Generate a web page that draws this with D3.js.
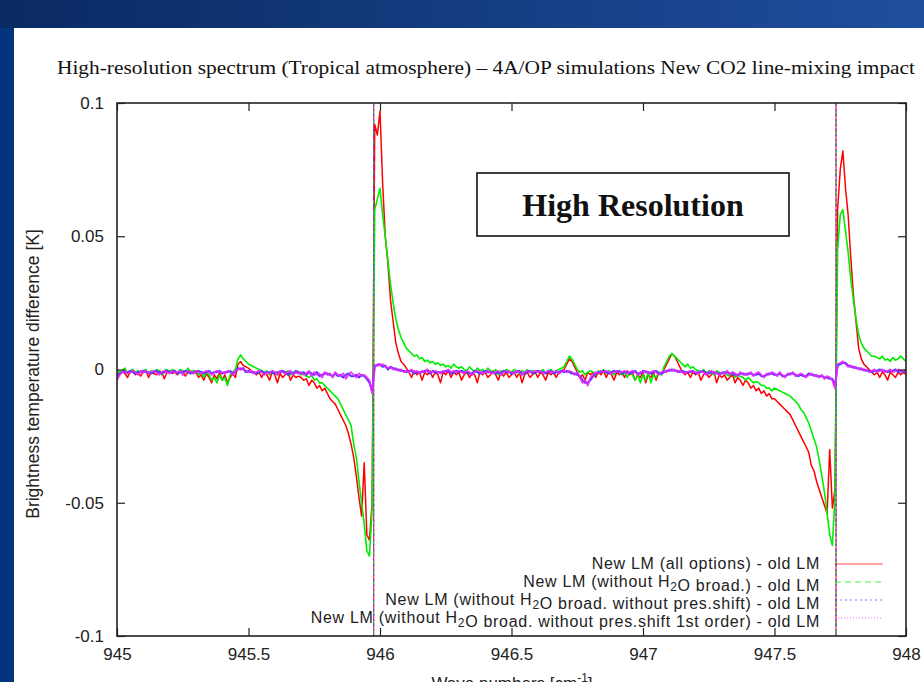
<!DOCTYPE html>
<html>
<head>
<meta charset="utf-8">
<script src="https://cdn.jsdelivr.net/npm/d3@7"></script>
<style>
  body { margin: 0; padding: 0; background: #fff; }
  svg { display: block; }
  .tick text { font-family: "Liberation Sans", Arial, sans-serif; font-size: 17px; fill: #222; }
  .tick line { stroke: #222; stroke-width: 1.2; }
</style>
</head>
<body>
<svg id="chart"></svg>
<script>
// wavenumber grid: 945.00 .. 948.00 every 0.01 cm-1, values in mK
var waveStart = 945, waveStep = 0.01;

var allOptions = [
  -1,-2,-0.5,-1.5,-3,-1,-0.5,-2,-1,-2.5,          // 945.0
  -1,-0.5,-3,-1,-1.5,-2,-0.5,-1,-3.5,-1,          // 945.1
  -0.5,-1.5,-1,-2,-0.5,-1,-2.5,-1,-0.5,-1.5,      // 945.2
  -1,-3,-2,-4,-1.5,-3,-5,-2,-3.5,-1,              // 945.3
  -4,-2,-5,-3,-1.5,-3,2,3,1.5,1,                  // 945.4
  0.5,-0.5,-1,-2,-1,-3,-1,-2,-4,-1,               // 945.5
  -2,-5,-1.5,-3,-2,-1,-4,-2,-3,-2.5,              // 945.6
  -3,-4,-3.5,-6,-4,-5,-7,-6,-8,-7,                // 945.7
  -9,-11,-12,-13,-15,-17,-19,-21,-24,-28,         // 945.8
  -33,-40,-48,-55,-35,-62,-64,-50,92,88,          // 945.9
  97,70,50,40,26,18,10,6,3,2,                     // 946.0
  0.5,-1,-3,-0.5,-2,-1,-4,-1,-2,-0.5,             // 946.1
  -3,-1,-2,-5,-1,-2,-0.5,-3,-1,-2,                // 946.2
  -1,-4,-2,-1,-3,-1.5,-2,-5,-1,-2,                // 946.3
  -1,-3,-2,-0.5,-2,-4,-1,-2.5,-1,-3,              // 946.4
  -2,-1,-3,-1,-5,-2,-1,-3,-2,-1,                  // 946.5
  -3,-1,-2,-4,-1,-2,-1,-3,-1,-0.5,                // 946.6
  0,2,4,3,1,-1,-3,-2,-4,-1,                       // 946.7
  -2,-1,-3,-1,-2,-0.5,-3,-1,-2,-4,                // 946.8
  -1,-2,-1,-3,-0.5,-2,-1,-4,-2,-3,                // 946.9
  -1,-5,-2,-3,-1,-4,-1,-2,0,2,                    // 947.0
  4,6,5,3,1,-1,-2,-1,-3,-1,                       // 947.1
  -2,-1,-4,-2,-1,-3,-2,-1,-5,-2,                  // 947.2
  -3,-2,-4,-3,-2,-5,-3,-4,-6,-4,                  // 947.3
  -5,-7,-6,-8,-7,-9,-8,-10,-9,-11,                // 947.4
  -11,-12,-13,-14,-15,-16,-17,-19,-21,-23,        // 947.5
  -25,-27,-29,-31,-36,-38,-42,-45,-48,-51,        // 947.6
  -54,-30,-52,-45,60,75,82,68,58,42,              // 947.7
  28,18,8,4,2,1,0,-1,-2,-1,                       // 947.8
  -3,-1,-2,-4,-1,-2,-3,-1,-2,-1,                  // 947.9
  -2
];

var noH2OBroad = [
  0,-1,-0.5,0.5,-1.5,-0.5,0,-1,-0.5,-1,
  -0.5,0,-1.5,-0.5,-1,0,-0.5,-2,-0.5,0,
  -1,0,-0.5,-1.5,0,-0.5,-1,0.5,-1,-0.5,
  -0.5,-2,-1,-3,-1,-2,-4,-3,-5,-2,
  -4,-3,-6,-2,-1,0,4,5.5,4,3,
  2,1.5,1,0.5,0,-0.5,-1,-0.5,-2,-0.5,
  -1,-2,-0.5,-1,-1.5,-0.5,-2,-1,-1.5,-1,
  -2,-1.5,-2.5,-3,-2,-4,-3.5,-5,-5,-6,
  -7,-8,-9,-10,-11,-13,-15,-17,-19,-21,
  -28,-33,-42,-50,-58,-68,-70,-52,60,64,
  68,58,50,41,32,25,19,15,12,10,
  8,7,6,5,5.5,4,4.5,3,3.5,2.5,
  3,2,2.5,1.5,2,1,1.5,0.5,2,1,
  0.5,1,0,-0.5,1,0,-1,0.5,-0.5,0,
  -1,0.5,-0.5,-1,0,-2,-0.5,-1,0,-0.5,
  -1,0,-0.5,-1.5,-0.5,-1,0,-1,-0.5,-1,
  -0.5,-1,0,-1.5,-0.5,0,-1,-0.5,0,0.5,
  1,3,5,4,2,0,-1,-0.5,-2,-1,
  -0.5,-1,-2,-0.5,-1,0,-1.5,-0.5,-1,-2,
  -0.5,-1,-2,-1,-3,-1,-2,-4,-2,-5,
  -2,-4,-1,-5,-2,-3,-1,-2,1,3,
  5,6,5,4,3,2,1,2,0.5,1,
  0,-0.5,-1,0,-1.5,-0.5,-1,-2,-0.5,-1,
  -1.5,-1,-2,-2.5,-1,-3,-2,-2.5,-3,-4,
  -3,-4,-5,-4.5,-5,-6,-6,-7,-7,-8,
  -7,-7.5,-8,-8.5,-9,-9.5,-10,-11,-12,-13,
  -15,-16,-18,-20,-23,-26,-29,-34,-40,-46,
  -54,-62,-66,-48,45,58,60,52,44,34,
  26,19,13,10,8,7,6,5,5,4.5,
  4,5,3.5,4,3,4.5,3.5,4,5,4,
  3
];

var noPresShift = [
  -3,-1.5,-1,-1,-1,-0.5,-1,-1.5,-1,-1,
  -0.5,-1,-1,-1.5,-1,-0.5,-1,-1.5,-1,-0.5,
  -1,-1,-0.5,-1.5,-1,-1,-0.5,-1,-1.5,-1,
  -1,-0.5,-1,-1.5,-1,-0.5,-1.5,-1,-1,-0.5,
  -1.5,-1,-1,-0.5,-1.5,-1,0.5,0,0.5,-1,
  -0.5,-1,-1,-1.5,-1,-0.5,-1.5,-1,-1,-1,
  -1.5,-1,-1,-0.5,-1,-2,-1,-1.5,-0.5,-1,
  -1.5,-1,-2,-1,-1.5,-2,-1,-2.5,-2,-1.5,
  -1.5,-2,-2.5,-1.5,-2.5,-2,-3,-2,-1.5,-2.5,
  -2.5,-2,-3,-2,-2.5,-3.5,-5,-8,1.5,1.5,
  2,1,1.5,0,1,0.5,0,0,-0.5,-0.5,
  -1,-0.5,-0.5,-1.5,-1,-1,-1,-0.5,-0.5,-1.5,
  -0.5,-1,-1,-1,-1,-0.5,-0.5,-1.5,-1,-0.5,
  -1,-0.5,-1,-1,-1.5,-1.5,-0.5,-1,-1.5,-1,
  -0.5,-1,-1,-1,-1.5,-1,-1.5,-0.5,-1,-1,
  -1.5,-1,-1,-0.5,-1.5,-1.5,-1,-0.5,-1.5,-1,
  -0.5,-1,-1,-1.5,-1,-0.5,-1.5,-1,-1,-0.5,
  -1,-0.5,-1,-1.5,-1.5,-2,-2.5,-4,-5,-5,
  -4,-2.5,-1.5,-1,-1,-0.5,-1,-1.5,-1,-0.5,
  -1,-0.5,-1.5,-1,-1,-1.5,-1,-0.5,-1.5,-1.5,
  -0.5,-1,-1,-1.5,-1,-0.5,-1.5,-1.5,-1,-0.5,
  -0.5,0,-0.5,-0.5,-1,-0.5,-1,-1,-1,-0.5,
  -1.5,-1,-1,-0.5,-1.5,-1.5,-1,-1,-1.5,-1.5,
  -1.5,-1,-1,-1.5,-1.5,-2,-2,-1.5,-1.5,-2,
  -1.5,-1.5,-2,-2,-1.5,-2.5,-2.5,-2,-1.5,-1.5,
  -2,-2,-1.5,-2.5,-2.5,-2,-1.5,-1.5,-2,-2.5,
  -2,-2.5,-2.5,-1.5,-2,-2,-2.5,-2.5,-2.5,-3,
  -3,-3.5,-3.5,-6,1.5,2,2.5,2.5,1.5,1,
  1,0.5,0.5,0,0,-0.5,-0.5,-1,-0.5,-0.5,
  0,-0.5,-0.5,-1,-0.5,-0.5,0,-1,-0.5,-1,
  -0.5
];

var noPresShift1st = [
  -4,-2,-1,-0.5,-1.5,-1,-0.5,-1,-2,-0.5,
  -1,-0.5,-1.5,-1,-0.5,-1,-2,-1,-0.5,-1,
  -1.5,-0.5,-1,-1,-0.5,-2,-1,-0.5,-1,-1.5,
  -0.5,-1,-1.5,-1,-0.5,-1,-2,-1,-0.5,-1,
  -1,-1.5,-0.5,-1,-2,-0.5,0,0.5,0,-0.5,
  -1,-0.5,-1.5,-1,-0.5,-1,-2,-1,-1.5,-0.5,
  -1,-2,-0.5,-1,-1.5,-1,-0.5,-2,-1,-1.5,
  -1,-2,-1.5,-0.5,-2.5,-1,-2,-1.5,-3,-1,
  -2,-1.5,-3,-1,-2,-2.5,-1.5,-3.5,-2,-1,
  -2,-3,-1.5,-2.5,-2,-3,-4,-9,1,2,
  1.5,2,1,0.5,1,0,0.5,-0.5,0,-1,
  -0.5,-1,0,-1,-0.5,-1.5,-0.5,-1,0,-1,
  -1,-0.5,-1,-1.5,-0.5,-1,0,-1,-0.5,-1,
  -0.5,-1,-1.5,-0.5,-1,-2,-1,-0.5,-1,-1.5,
  -1,-0.5,-1,-1.5,-1,-0.5,-2,-1,-0.5,-1,
  -1,-1.5,-0.5,-1,-2,-1,-0.5,-1,-1,-0.5,
  -1,-0.5,-1.5,-1,-0.5,-1,-1,-0.5,-1.5,-1,
  -0.5,-1,-0.5,-1,-2,-1,-3,-5,-4,-6,
  -3,-2,-1,-1.5,-0.5,-1,-0.5,-1,-1.5,-1,
  -0.5,-1,-1,-0.5,-1.5,-1,-0.5,-1,-2,-1,
  -1,-0.5,-1.5,-1,-0.5,-1,-2,-1,-0.5,-1,
  0,-0.5,0,-1,-0.5,-1,-1.5,-1,-0.5,-1,
  -1,-1.5,-0.5,-1,-2,-1,-0.5,-1.5,-1,-2,
  -1,-1.5,-0.5,-2,-1,-1.5,-2.5,-1,-2,-1.5,
  -2,-1,-2.5,-1.5,-1,-2,-3,-1.5,-2,-1,
  -1.5,-2.5,-1,-2,-3,-1.5,-2,-1,-2.5,-2,
  -1.5,-2,-3,-2,-1.5,-2.5,-2,-3,-2,-3.5,
  -2.5,-3,-4,-7,2,2.5,3,2,1,1.5,
  0.5,1,0,0.5,-0.5,0,-1,-0.5,0,-1,
  -0.5,0,-1,-0.5,0,-1,-0.5,0,-1,-0.5,
  0
];

// CO2 line centres where every difference runs off scale
var lineCenters = [945.976, 947.734];

var seriesLabels = [
  ["New LM (all options) - old LM"],
  ["New LM (without H", {sub: "2"}, "O broad.) - old LM"],
  ["New LM (without H", {sub: "2"}, "O broad. without pres.shift) - old LM"],
  ["New LM (without H", {sub: "2"}, "O broad. without pres.shift 1st order) - old LM"]
];
var seriesValues = [allOptions, noH2OBroad, noPresShift, noPresShift1st];
var seriesColors = ["#ff0000", "#00ee00", "#3a3cff", "#ee22ff"];
var seriesWidth = [1.5, 1.6, 2, 2];
var seriesDash = [null, "6,4", "2,3", "1,2"];

var xTicks = [945, 945.5, 946, 946.5, 947, 947.5, 948];
var yTicks = [-0.1, -0.05, 0, 0.05, 0.1];

var title = "High-resolution spectrum (Tropical atmosphere) \u2013 4A/OP simulations New CO2 line-mixing impact";

var width = 924, height = 682;
var plot = {left: 117, top: 103, right: 906, bottom: 636};
var sans = "'Liberation Sans', Arial, sans-serif";
var serif = "'Liberation Serif', 'Times New Roman', serif";

var svg = d3.select("#chart").attr("width", width).attr("height", height);

// slide background
var defs = svg.append("defs");
var grad = defs.append("linearGradient").attr("id", "band")
  .attr("x1", "0%").attr("y1", "0%").attr("x2", "100%").attr("y2", "0%");
grad.append("stop").attr("offset", "0%").attr("stop-color", "#0a2a62");
grad.append("stop").attr("offset", "100%").attr("stop-color", "#1f4e9e");
defs.append("clipPath").attr("id", "plotclip").append("rect")
  .attr("x", plot.left).attr("y", plot.top)
  .attr("width", plot.right - plot.left).attr("height", plot.bottom - plot.top);

svg.append("rect").attr("width", width).attr("height", height).attr("fill", "url(#band)");
svg.append("rect").attr("x", 0).attr("y", 28).attr("width", 14).attr("height", height - 28).attr("fill", "#03347f");
svg.append("rect").attr("x", 14).attr("y", 28).attr("width", width - 14).attr("height", height - 28).attr("fill", "#fff");

svg.append("text")
  .attr("x", 57).attr("y", 74)
  .attr("textLength", 858).attr("lengthAdjust", "spacingAndGlyphs")
  .style("font-family", serif)
  .style("font-size", "18.5px").style("fill", "#111")
  .text(title);

var x = d3.scaleLinear().domain([945, 948]).range([plot.left, plot.right]);
var y = d3.scaleLinear().domain([-0.1, 0.1]).range([plot.bottom, plot.top]);

// data
var line = d3.line()
  .x(function (d, i) { return x(waveStart + i * waveStep); })
  .y(function (d) { return y(d / 1000); });

var dataG = svg.append("g").attr("clip-path", "url(#plotclip)");
seriesValues.forEach(function (vals, k) {
  dataG.append("path")
    .datum(vals)
    .attr("d", line)
    .attr("fill", "none")
    .attr("stroke", seriesColors[k])
    .attr("stroke-width", seriesWidth[k])
    .attr("stroke-linejoin", "round")
    .attr("opacity", k == 3 ? 0.85 : 1);
  dataG.selectAll(null)
    .data(lineCenters)
    .enter().append("line")
    .attr("x1", function (d) { return x(d); })
    .attr("x2", function (d) { return x(d); })
    .attr("y1", y(-0.1)).attr("y2", y(0.1))
    .attr("stroke", seriesColors[k])
    .attr("stroke-width", 1)
    .attr("stroke-dasharray", seriesDash[k]);
});

// axes, gnuplot style: inward ticks mirrored on all four sides
var fmt = function (d) { return String(d); };
svg.append("g").attr("transform", "translate(0," + plot.bottom + ")")
  .call(d3.axisBottom(x).tickValues(xTicks).tickSize(-8).tickPadding(12).tickFormat(fmt))
  .call(function (g) { g.select(".domain").remove(); });
svg.append("g").attr("transform", "translate(0," + plot.top + ")")
  .call(d3.axisTop(x).tickValues(xTicks).tickSize(-8).tickFormat(""))
  .call(function (g) { g.select(".domain").remove(); });
svg.append("g").attr("transform", "translate(" + plot.left + ",0)")
  .call(d3.axisLeft(y).tickValues(yTicks).tickSize(-8).tickPadding(13).tickFormat(fmt))
  .call(function (g) { g.select(".domain").remove(); });
svg.append("g").attr("transform", "translate(" + plot.right + ",0)")
  .call(d3.axisRight(y).tickValues(yTicks).tickSize(-8).tickFormat(""))
  .call(function (g) { g.select(".domain").remove(); });

svg.append("rect")
  .attr("x", plot.left).attr("y", plot.top)
  .attr("width", plot.right - plot.left).attr("height", plot.bottom - plot.top)
  .attr("fill", "none").attr("stroke", "#222").attr("stroke-width", 1.6);

// axis titles
svg.append("text")
  .attr("transform", "translate(39," + 374 + ") rotate(-90)")
  .attr("text-anchor", "middle")
  .style("font-family", sans)
  .style("font-size", "17.5px").style("fill", "#222")
  .text("Brightness temperature difference [K]");

// only the top of this title shows in the original slide
var xt = svg.append("text")
  .attr("x", 512).attr("y", 689)
  .attr("text-anchor", "middle")
  .style("font-family", sans)
  .style("font-size", "17px").style("fill", "#222");
xt.append("tspan").text("Wave numbers [cm");
xt.append("tspan").attr("dy", -7).style("font-size", "12px").text("-1");
xt.append("tspan").attr("dy", 7).text("]");

// "High Resolution" box
svg.append("rect")
  .attr("x", 477).attr("y", 173).attr("width", 312).attr("height", 63)
  .attr("fill", "#fff").attr("stroke", "#111").attr("stroke-width", 1.6);
svg.append("text")
  .attr("x", 633).attr("y", 216)
  .attr("text-anchor", "middle")
  .style("font-family", serif)
  .style("font-weight", "bold").style("font-size", "32px").style("fill", "#111")
  .text("High Resolution");

// legend
var legend = svg.append("g");
seriesLabels.forEach(function (parts, k) {
  var ly = 564 + k * 18;
  var t = legend.append("text")
    .attr("x", 820).attr("y", ly + 5)
    .attr("text-anchor", "end")
    .style("font-family", sans)
    .style("font-size", "16px").style("letter-spacing", "0.7px")
    .style("fill", "#222");
  parts.forEach(function (p) {
    if (typeof p == "string") {
      t.append("tspan").text(p);
    } else {
      t.append("tspan").attr("dy", 4).style("font-size", "12px").text(p.sub);
      t.append("tspan").attr("dy", -4).text("");
    }
  });
  legend.append("line")
    .attr("x1", 835).attr("x2", 883).attr("y1", ly).attr("y2", ly)
    .attr("stroke", seriesColors[k]).attr("stroke-width", 1)
    .attr("stroke-opacity", 0.7)
    .attr("stroke-dasharray", seriesDash[k]);
});
</script>
</body>
</html>
